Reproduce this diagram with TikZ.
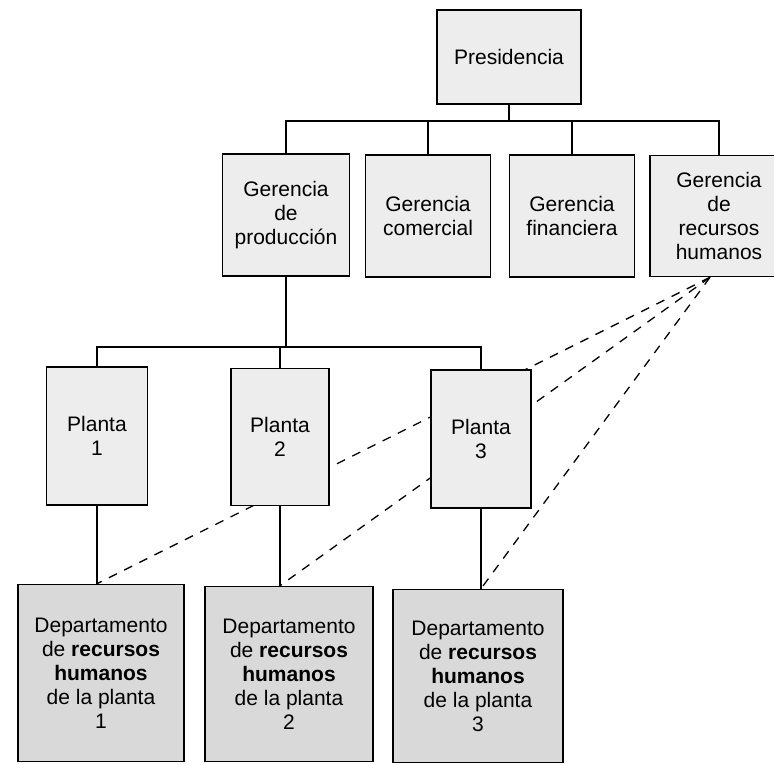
\documentclass[tikz,border=0pt]{standalone}
\usepackage{fontspec}
\setmainfont{Liberation Sans}
\usetikzlibrary{backgrounds}

\begin{document}
\begin{tikzpicture}[x=1pt, y=-1pt,
	every node/.style={font=\fontsize{21}{24}\selectfont},
	unit/.style={draw, line width=1.6pt, fill=gray!14, align=center, inner sep=0pt},
	dept/.style={unit, fill=gray!30},
	link/.style={line width=1.6pt},
	staff/.style={line width=1.3pt, dash pattern=on 9pt off 8pt}]
	\useasboundingbox (0,0) rectangle (774,764);
	\clip (0,0) rectangle (774,764);
	% top level
	\node[unit, minimum width=144, minimum height=94] (pres) at (509,57) {Presidencia};
	\node[unit, minimum width=127, minimum height=122] (gprod) at (286,215) {Gerencia\\de\\producción};
	\node[unit, minimum width=125, minimum height=122] (gcom) at (428,216) {Gerencia\\comercial};
	\node[unit, minimum width=125, minimum height=122] (gfin) at (572,216) {Gerencia\\financiera};
	\node[unit, minimum width=138, minimum height=121] (grh) at (719,216) {Gerencia\\de\\recursos\\humanos};
	% plants
	\node[unit, minimum width=101, minimum height=138] (p1) at (97,436) {Planta\\1};
	\node[unit, minimum width=98, minimum height=137] (p2) at (280,437) {Planta\\2};
	\node[unit, minimum width=100, minimum height=138] (p3) at (481,439) {Planta\\3};
	% hr departments
	\node[dept, minimum width=166, minimum height=177] (d1) at (101,673) {Departamento\\de \textbf{recursos}\\\textbf{humanos}\\de la planta\\1};
	\node[dept, minimum width=168, minimum height=175] (d2) at (289,674) {Departamento\\de \textbf{recursos}\\\textbf{humanos}\\de la planta\\2};
	\node[dept, minimum width=170, minimum height=173] (d3) at (478,676) {Departamento\\de \textbf{recursos}\\\textbf{humanos}\\de la planta\\3};

	\path (pres.south) ++(0,16) coordinate (top bus);
	\draw[link] (pres.south) -- (top bus);
	\foreach \g in {gprod,gcom,gfin,grh}
		\draw[link] (top bus) -| (\g.north);
	\path (gprod.south) ++(0,70) coordinate (plant bus);
	\draw[link] (gprod.south) -- (plant bus);
	\foreach \i in {1,2,3} {
		\draw[link] (plant bus) -| (p\i.north);
		\draw[link] (p\i.south) -- (p\i.south |- d\i.north);
	}
	% staff lines behind the boxes
	\begin{scope}[on background layer]
		\foreach \i in {1,2,3}
			\draw[staff] ([xshift=-9pt]grh.south) -- (p\i.south |- d\i.north);
	\end{scope}
\end{tikzpicture}
\end{document}
